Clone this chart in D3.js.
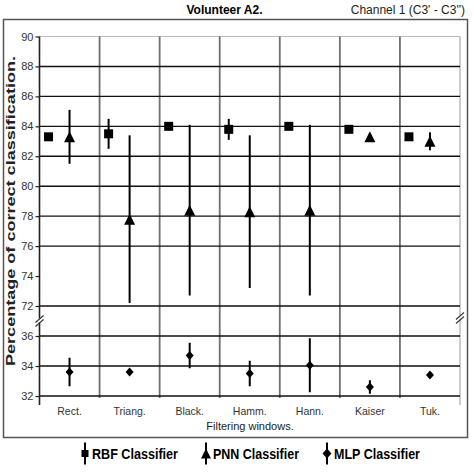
<!DOCTYPE html>
<html>
<head>
<meta charset="utf-8">
<script src="https://cdn.jsdelivr.net/npm/d3@7"></script>
<style>
  body { margin: 0; background: #fff; }
  svg { display: block; font-family: "Liberation Sans", Arial, sans-serif; }
</style>
</head>
<body>
<svg id="chart" width="474" height="474"></svg>
<script>
// filtering windows on the x axis
var windows = ['Rect.', 'Triang.', 'Black.', 'Hamm.', 'Hann.', 'Kaiser', 'Tuk.'];

// mean percentage and half error bar, per classifier
var rbfMean = [83.3, 83.5, 84.0, 83.8, 84.0, 83.8, 83.3];
var rbfErr  = [0.2, 1.0, 0.2, 0.7, 0.2, 0.2, 0.2];
var pnnMean = [83.3, 77.8, 78.4, 78.3, 78.4, 83.3, 83.0];
var pnnErr  = [1.8, 5.6, 5.7, 5.1, 5.7, 0.2, 0.6];
var mlpMean = [33.6, 33.6, 34.7, 33.5, 34.05, 32.6, 33.4];
var mlpErr  = [0.95, 0.2, 0.85, 0.85, 1.8, 0.45, 0.2];

// y axis is broken between 72 and 36
var topTicks = [72, 74, 76, 78, 80, 82, 84, 86, 88, 90];
var topGrid  = [72, 76, 78, 80, 82, 84, 86, 88];
var lowTicks = [32, 34, 36];
var lowGrid  = [34, 36];

var legendNames = ['RBF Classifier', 'PNN Classifier', 'MLP Classifier'];

var svg = d3.select('#chart');

var x = d3.scaleBand().domain(windows).range([39.5, 460]).padding(0);
var yTop = d3.scaleLinear().domain([72, 90]).range([306, 36.5]);
var yLow = d3.scaleLinear().domain([32, 36]).range([396, 336]);

function square(s) { return 'M' + (-s/2) + ',' + (-s/2) + 'h' + s + 'v' + s + 'h' + (-s) + 'Z'; }
function triangle(w, h) { return 'M0,' + (-h/2) + 'L' + (w/2) + ',' + (h/2) + 'L' + (-w/2) + ',' + (h/2) + 'Z'; }
function diamond(w, h) { return 'M0,' + (-h/2) + 'L' + (w/2) + ',0L0,' + (h/2) + 'L' + (-w/2) + ',0Z'; }

function series(means, errs) {
  return windows.map(function(w, i) { return {cat: w, mean: means[i], err: errs[i]}; });
}
var rbf = series(rbfMean, rbfErr);
var pnn = series(pnnMean, pnnErr);
var mlp = series(mlpMean, mlpErr);

// outer frame
svg.append('rect')
   .attr('x', 3.5).attr('y', 19.5).attr('width', 464).attr('height', 418)
   .style('fill', 'none').style('stroke', '#555').style('stroke-width', 1.5);

// titles
svg.append('text')
   .attr('x', 224.5).attr('y', 13.5)
   .attr('text-anchor', 'middle')
   .style('font-size', '12px').style('font-weight', 'bold')
   .text('Volunteer A2.');
svg.append('text')
   .attr('x', 465).attr('y', 13.5)
   .attr('text-anchor', 'end')
   .style('font-size', '12px').style('fill', '#222')
   .text("Channel 1 (C3' - C3'')");

// top border and right border of the plot
svg.append('line')
   .attr('x1', 39.5).attr('y1', yTop(90)).attr('x2', 460).attr('y2', yTop(90))
   .style('stroke', '#bbb').style('stroke-width', 1.2);
svg.append('line')
   .attr('x1', 460).attr('y1', yTop(90)).attr('x2', 460).attr('y2', 405)
   .style('stroke', '#bbb').style('stroke-width', 1.5);

// vertical separators between windows
svg.selectAll('.vgrid')
   .data(windows.slice(1))
   .enter()
   .append('line')
   .classed('vgrid', true)
   .attr('x1', function(d){return x(d);}).attr('x2', function(d){return x(d);})
   .attr('y1', yTop(90)).attr('y2', 398)
   .style('stroke', '#707070').style('stroke-width', 1.8);

// horizontal grid lines
svg.selectAll('.hgridTop')
   .data(topGrid)
   .enter()
   .append('line')
   .classed('hgridTop', true)
   .attr('x1', 39.5).attr('x2', 460)
   .attr('y1', function(d){return yTop(d);}).attr('y2', function(d){return yTop(d);})
   .style('stroke', '#111').style('stroke-width', 1.4);
svg.selectAll('.hgridLow')
   .data(lowGrid)
   .enter()
   .append('line')
   .classed('hgridLow', true)
   .attr('x1', 39.5).attr('x2', 460)
   .attr('y1', function(d){return yLow(d);}).attr('y2', function(d){return yLow(d);})
   .style('stroke', '#111').style('stroke-width', 1.4);
svg.append('line')
   .attr('x1', 39.5).attr('x2', 460).attr('y1', yLow(32)).attr('y2', yLow(32))
   .style('stroke', '#111').style('stroke-width', 1.6);

// y axes
var axTop = svg.append('g')
   .attr('transform', 'translate(39.5,0)')
   .call(d3.axisLeft(yTop).tickValues(topTicks).tickSize(4).tickPadding(2).tickFormat(d3.format('d')));
var axLow = svg.append('g')
   .attr('transform', 'translate(39.5,0)')
   .call(d3.axisLeft(yLow).tickValues(lowTicks).tickSize(4).tickPadding(2).tickFormat(d3.format('d')));
[axTop, axLow].forEach(function(g) {
   g.select('.domain').remove();
   g.selectAll('.tick line').style('stroke', '#222').style('stroke-width', 1.2);
   g.selectAll('.tick text')
    .style('font-family', '"Liberation Sans", Arial, sans-serif')
    .style('font-size', '11px').style('fill', '#333');
});
svg.append('line')
   .attr('x1', 39.5).attr('x2', 39.5).attr('y1', yTop(90)).attr('y2', 405)
   .style('stroke', '#222').style('stroke-width', 1.6);

// axis breaks
function breakMark(cx, cy) {
   svg.append('rect')
      .attr('x', cx - 3).attr('y', cy - 2.5).attr('width', 6).attr('height', 4)
      .style('fill', '#fff');
   [-2, 2].forEach(function(o) {
      svg.append('line')
         .attr('x1', cx - 4).attr('y1', cy + o + 3.5).attr('x2', cx + 4).attr('y2', cy + o - 3.5)
         .style('stroke', '#333').style('stroke-width', 1.1);
   });
}
breakMark(39.5, 321);
breakMark(460, 318);

// x axis labels
var axX = svg.append('g')
   .attr('transform', 'translate(0,' + yLow(32) + ')')
   .call(d3.axisBottom(x).tickSize(0).tickPadding(12));
axX.select('.domain').remove();
axX.selectAll('.tick text')
   .style('font-family', '"Liberation Sans", Arial, sans-serif')
   .style('font-size', '10.5px').style('fill', '#333');

svg.append('text')
   .attr('x', 250).attr('y', 430)
   .attr('text-anchor', 'middle')
   .style('font-size', '11px').style('fill', '#222')
   .text('Filtering windows.');

svg.append('text')
   .attr('transform', 'translate(15,211) rotate(-90)')
   .attr('text-anchor', 'middle')
   .attr('textLength', 310).attr('lengthAdjust', 'spacingAndGlyphs')
   .style('font-size', '12px').style('font-weight', 'bold').style('fill', '#222')
   .text('Percentage of correct classification.');

// error bars and markers
function drawSeries(data, y, dx, shape, cls) {
   svg.selectAll('.bar' + cls)
      .data(data)
      .enter()
      .append('line')
      .classed('bar' + cls, true)
      .attr('x1', function(d){return x(d.cat) + x.bandwidth()/2 + dx;})
      .attr('x2', function(d){return x(d.cat) + x.bandwidth()/2 + dx;})
      .attr('y1', function(d){return y(d.mean + d.err);})
      .attr('y2', function(d){return y(d.mean - d.err);})
      .style('stroke', '#000').style('stroke-width', 2);
   svg.selectAll('.mk' + cls)
      .data(data)
      .enter()
      .append('path')
      .classed('mk' + cls, true)
      .attr('d', shape)
      .attr('transform', function(d){return 'translate(' + (x(d.cat) + x.bandwidth()/2 + dx) + ',' + y(d.mean) + ')';})
      .style('fill', '#000');
}
drawSeries(rbf, yTop, -21, square(9), 'rbf');
drawSeries(pnn, yTop, 0, triangle(11, 11), 'pnn');
drawSeries(mlp, yLow, 0, diamond(8, 9), 'mlp');

// legend
var lx = d3.scalePoint().domain(legendNames).range([85, 327]);
var legendShapes = [square(7), triangle(10, 10), diamond(9, 10)];
var lg = svg.selectAll('.legend')
   .data(legendNames)
   .enter()
   .append('g')
   .classed('legend', true)
   .attr('transform', function(d){return 'translate(' + lx(d) + ',453.5)';});
lg.append('line')
   .attr('x1', 0).attr('x2', 0).attr('y1', -11).attr('y2', 11)
   .style('stroke', '#000').style('stroke-width', 2);
lg.append('path')
   .attr('d', function(d, i){return legendShapes[i];})
   .style('fill', '#000');
lg.append('text')
   .attr('x', 7).attr('y', 5)
   .attr('textLength', 86).attr('lengthAdjust', 'spacingAndGlyphs')
   .style('font-size', '14px').style('font-weight', 'bold')
   .text(function(d){return d;});
</script>
</body>
</html>
